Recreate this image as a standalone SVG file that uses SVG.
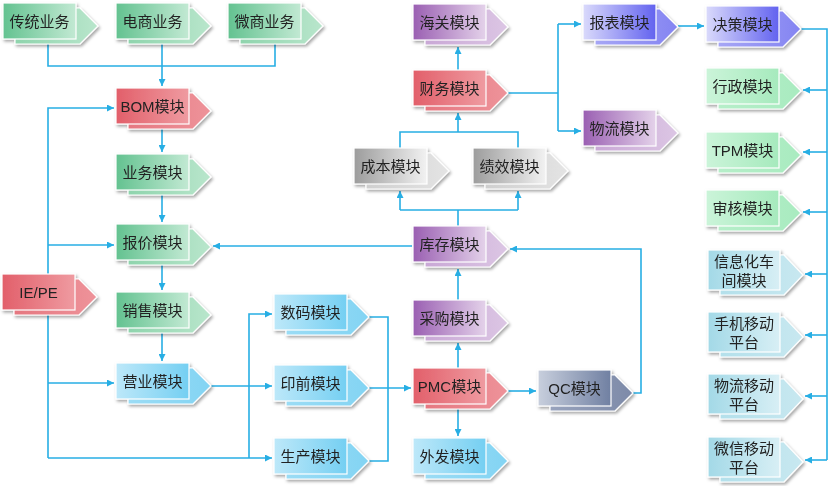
<svg xmlns="http://www.w3.org/2000/svg" xmlns:xlink="http://www.w3.org/1999/xlink" width="837" height="486" viewBox="0 0 837 486">
<style>
text{font-family:"Liberation Sans","Noto Sans CJK SC",sans-serif;font-size:15px;fill:#222;text-anchor:middle}
.bk,.fr{stroke:#fff;stroke-width:1.2}
.node{filter:url(#sh)}
.green .fr{fill:url(#greenF)} .green .bk{fill:url(#greenB)}
.red .fr{fill:url(#redF)} .red .bk{fill:url(#redB)}
.blue .fr{fill:url(#blueF)} .blue .bk{fill:url(#blueB)}
.purple .fr{fill:url(#purF)} .purple .bk{fill:url(#purB)}
.gray .fr{fill:url(#grayF)} .gray .bk{fill:url(#grayB)}
.lav .fr{fill:url(#lavF)} .lav .bk{fill:url(#lavB)}
.slate .fr{fill:url(#slateF)} .slate .bk{fill:url(#slateB)}
.mint .fr{fill:url(#mintF)} .mint .bk{fill:url(#mintB)}
.teal .fr{fill:url(#tealF)} .teal .bk{fill:url(#tealB)}
.c{fill:none;stroke:#27aee4;stroke-width:1.6}
.a{marker-end:url(#ah)}
</style>
<defs>
<filter id="sh" x="-10%" y="-10%" width="130%" height="140%">
<feDropShadow dx="1.5" dy="2" stdDeviation="1.5" flood-color="#000" flood-opacity="0.35"/>
</filter>
<marker id="ah" viewBox="0 0 10 10" refX="10" refY="5" markerWidth="9" markerHeight="7" markerUnits="userSpaceOnUse" orient="auto">
<path d="M0,0 L10,5 L0,10 Z" fill="#27aee4"/>
</marker>
<path id="bk" d="M12,5 H77 L95,23 L77,41 H12 Z"/>
<rect id="fr" width="73" height="36"/>
<path id="bk2" d="M12,5 H76 L95,25 L76,45 H12 Z"/>
<rect id="fr2" width="72" height="40"/>
<linearGradient id="greenF"><stop offset="0" stop-color="#63c290"/><stop offset="1" stop-color="#c2e9d3"/></linearGradient>
<linearGradient id="greenB"><stop offset="0" stop-color="#8fd4ad"/><stop offset="1" stop-color="#b9e6cc"/></linearGradient>
<linearGradient id="redF"><stop offset="0" stop-color="#e25f6a"/><stop offset="1" stop-color="#ef9ba1"/></linearGradient>
<linearGradient id="redB"><stop offset="0" stop-color="#e57780"/><stop offset="1" stop-color="#ee939a"/></linearGradient>
<linearGradient id="blueF"><stop offset="0" stop-color="#bde8f9"/><stop offset="1" stop-color="#74cff2"/></linearGradient>
<linearGradient id="blueB"><stop offset="0" stop-color="#9bdcf5"/><stop offset="1" stop-color="#83d4f3"/></linearGradient>
<linearGradient id="purF"><stop offset="0" stop-color="#9a5fb2"/><stop offset="1" stop-color="#e4d2ea"/></linearGradient>
<linearGradient id="purB"><stop offset="0" stop-color="#c9a8d6"/><stop offset="1" stop-color="#dcc6e4"/></linearGradient>
<linearGradient id="grayF"><stop offset="0" stop-color="#9c9c9c"/><stop offset="1" stop-color="#f2f2f2"/></linearGradient>
<linearGradient id="grayB"><stop offset="0" stop-color="#cfcfcf"/><stop offset="1" stop-color="#e4e4e4"/></linearGradient>
<linearGradient id="lavF"><stop offset="0" stop-color="#dadafb"/><stop offset="1" stop-color="#6262ef"/></linearGradient>
<linearGradient id="lavB"><stop offset="0" stop-color="#a6a6f5"/><stop offset="1" stop-color="#8484f2"/></linearGradient>
<linearGradient id="slateF"><stop offset="0" stop-color="#c8cfdd"/><stop offset="1" stop-color="#7080a2"/></linearGradient>
<linearGradient id="slateB"><stop offset="0" stop-color="#98a3bd"/><stop offset="1" stop-color="#7d8aa8"/></linearGradient>
<linearGradient id="mintF"><stop offset="0" stop-color="#cbf4d9"/><stop offset="1" stop-color="#a6eabd"/></linearGradient>
<linearGradient id="mintB"><stop offset="0" stop-color="#b6eec9"/><stop offset="1" stop-color="#a9ebc0"/></linearGradient>
<linearGradient id="tealF"><stop offset="0" stop-color="#a3d9e7"/><stop offset="1" stop-color="#d8eff5"/></linearGradient>
<linearGradient id="tealB"><stop offset="0" stop-color="#b4e0eb"/><stop offset="1" stop-color="#c8e8f0"/></linearGradient>
</defs>
<rect width="837" height="486" fill="#fff"/>

<g id="connectors">
<path class="c" d="M48,44 V66 H275 V44"/>
<path class="c a" d="M162,44 V86"/>
<path class="c a" d="M48,458 V108 H114"/>
<path class="c a" d="M48,245 H114"/>
<path class="c a" d="M48,383 H114"/>
<path class="c a" d="M48,458 H272"/>
<path class="c a" d="M162,129 V152"/>
<path class="c a" d="M162,195 V222"/>
<path class="c a" d="M162,265 V290"/>
<path class="c a" d="M162,333 V361"/>
<path class="c a" d="M210,386 H272"/>
<path class="c a" d="M249,458 V314 H272"/>
<path class="c" d="M369,317 H388 V461 H369"/>
<path class="c a" d="M369,388 H411"/>
<path class="c a" d="M458,368 V343"/>
<path class="c a" d="M458,300 V269"/>
<path class="c a" d="M458,409 V436"/>
<path class="c a" d="M508,391 H536"/>
<path class="c a" d="M633,393 H641 V249 H510"/>
<path class="c a" d="M412,246 H213"/>
<path class="c" d="M458,226 V210 M400,210 H518"/>
<path class="c a" d="M400,210 V191"/>
<path class="c a" d="M518,210 V191"/>
<path class="c" d="M400,148 V132 H518 V148"/>
<path class="c a" d="M458,132 V113"/>
<path class="c a" d="M458,70 V47"/>
<path class="c" d="M508,93 H558 M558,24 V131"/>
<path class="c a" d="M558,24 H581"/>
<path class="c a" d="M558,131 H581"/>
<path class="c a" d="M678,26 H704"/>
<path class="c" d="M801,29 H827 V460"/>
<path class="c a" d="M827,90 H803"/>
<path class="c a" d="M827,152 H803"/>
<path class="c a" d="M827,212 H803"/>
<path class="c a" d="M827,274 H805"/>
<path class="c a" d="M827,335 H805"/>
<path class="c a" d="M827,396 H805"/>
<path class="c a" d="M827,460 H805"/>
</g>

<g id="n-chuantong" class="node green" transform="translate(3,3)"><use class="bk" href="#bk"/><use class="fr" href="#fr"/><text x="36.5" y="23.5">传统业务</text></g>
<g id="n-dianshang" class="node green" transform="translate(116,3)"><use class="bk" href="#bk"/><use class="fr" href="#fr"/><text x="36.5" y="23.5">电商业务</text></g>
<g id="n-weishang" class="node green" transform="translate(228,3)"><use class="bk" href="#bk"/><use class="fr" href="#fr"/><text x="36.5" y="23.5">微商业务</text></g>
<g id="n-bom" class="node red" transform="translate(116,88)"><use class="bk" href="#bk"/><use class="fr" href="#fr"/><text x="36.5" y="23.5">BOM模块</text></g>
<g id="n-yewu" class="node green" transform="translate(116,154)"><use class="bk" href="#bk"/><use class="fr" href="#fr"/><text x="36.5" y="23.5">业务模块</text></g>
<g id="n-baojia" class="node green" transform="translate(116,224)"><use class="bk" href="#bk"/><use class="fr" href="#fr"/><text x="36.5" y="23.5">报价模块</text></g>
<g id="n-iepe" class="node red" transform="translate(2,274)"><use class="bk" href="#bk"/><use class="fr" href="#fr"/><text x="36.5" y="23.5">IE/PE</text></g>
<g id="n-xiaoshou" class="node green" transform="translate(116,292)"><use class="bk" href="#bk"/><use class="fr" href="#fr"/><text x="36.5" y="23.5">销售模块</text></g>
<g id="n-yingye" class="node blue" transform="translate(116,363)"><use class="bk" href="#bk"/><use class="fr" href="#fr"/><text x="36.5" y="23.5">营业模块</text></g>
<g id="n-shuma" class="node blue" transform="translate(274,294)"><use class="bk" href="#bk"/><use class="fr" href="#fr"/><text x="36.5" y="23.5">数码模块</text></g>
<g id="n-yinqian" class="node blue" transform="translate(274,365)"><use class="bk" href="#bk"/><use class="fr" href="#fr"/><text x="36.5" y="23.5">印前模块</text></g>
<g id="n-shengchan" class="node blue" transform="translate(274,438)"><use class="bk" href="#bk"/><use class="fr" href="#fr"/><text x="36.5" y="23.5">生产模块</text></g>
<g id="n-haiguan" class="node purple" transform="translate(413,4)"><use class="bk" href="#bk"/><use class="fr" href="#fr"/><text x="36.5" y="23.5">海关模块</text></g>
<g id="n-caiwu" class="node red" transform="translate(413,70)"><use class="bk" href="#bk"/><use class="fr" href="#fr"/><text x="36.5" y="23.5">财务模块</text></g>
<g id="n-chengben" class="node gray" transform="translate(354,148)"><use class="bk" href="#bk"/><use class="fr" href="#fr"/><text x="36.5" y="23.5">成本模块</text></g>
<g id="n-jixiao" class="node gray" transform="translate(473,148)"><use class="bk" href="#bk"/><use class="fr" href="#fr"/><text x="36.5" y="23.5">绩效模块</text></g>
<g id="n-kucun" class="node purple" transform="translate(413,226)"><use class="bk" href="#bk"/><use class="fr" href="#fr"/><text x="36.5" y="23.5">库存模块</text></g>
<g id="n-caigou" class="node purple" transform="translate(413,300)"><use class="bk" href="#bk"/><use class="fr" href="#fr"/><text x="36.5" y="23.5">采购模块</text></g>
<g id="n-pmc" class="node red" transform="translate(413,368)"><use class="bk" href="#bk"/><use class="fr" href="#fr"/><text x="36.5" y="23.5">PMC模块</text></g>
<g id="n-waifa" class="node blue" transform="translate(413,438)"><use class="bk" href="#bk"/><use class="fr" href="#fr"/><text x="36.5" y="23.5">外发模块</text></g>
<g id="n-qc" class="node slate" transform="translate(538,370)"><use class="bk" href="#bk"/><use class="fr" href="#fr"/><text x="36.5" y="23.5">QC模块</text></g>
<g id="n-baobiao" class="node lav" transform="translate(583,4)"><use class="bk" href="#bk"/><use class="fr" href="#fr"/><text x="36.5" y="23.5">报表模块</text></g>
<g id="n-wuliu" class="node purple" transform="translate(583,110)"><use class="bk" href="#bk"/><use class="fr" href="#fr"/><text x="36.5" y="23.5">物流模块</text></g>
<g id="n-juece" class="node lav" transform="translate(706,6)"><use class="bk" href="#bk"/><use class="fr" href="#fr"/><text x="36.5" y="23.5">决策模块</text></g>
<g id="n-xingzheng" class="node mint" transform="translate(706,68)"><use class="bk" href="#bk"/><use class="fr" href="#fr"/><text x="36.5" y="23.5">行政模块</text></g>
<g id="n-tpm" class="node mint" transform="translate(706,132)"><use class="bk" href="#bk"/><use class="fr" href="#fr"/><text x="36.5" y="23.5">TPM模块</text></g>
<g id="n-shenhe" class="node mint" transform="translate(706,190)"><use class="bk" href="#bk"/><use class="fr" href="#fr"/><text x="36.5" y="23.5">审核模块</text></g>
<g id="n-xinxihua" class="node teal" transform="translate(708,250)"><use class="bk" href="#bk2"/><use class="fr" href="#fr2"/><text x="36" y="17">信息化车</text><text x="36" y="36">间模块</text></g>
<g id="n-shouji" class="node teal" transform="translate(708,312)"><use class="bk" href="#bk2"/><use class="fr" href="#fr2"/><text x="36" y="17">手机移动</text><text x="36" y="36">平台</text></g>
<g id="n-wuliuyd" class="node teal" transform="translate(708,374)"><use class="bk" href="#bk2"/><use class="fr" href="#fr2"/><text x="36" y="17">物流移动</text><text x="36" y="36">平台</text></g>
<g id="n-weixin" class="node teal" transform="translate(708,437)"><use class="bk" href="#bk2"/><use class="fr" href="#fr2"/><text x="36" y="17">微信移动</text><text x="36" y="36">平台</text></g>
</svg>
